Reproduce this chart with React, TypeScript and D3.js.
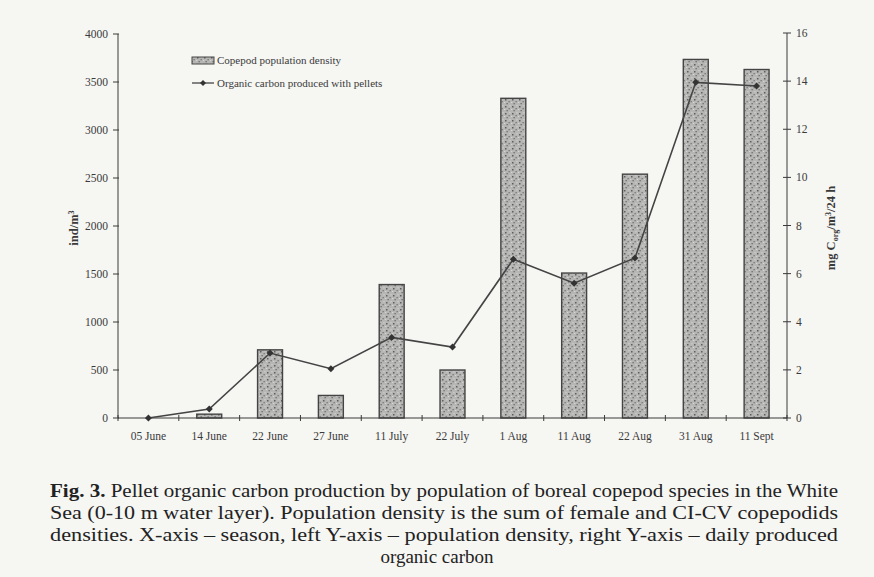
import React from "react";
import * as d3 from "d3";

const dates = ["05 June", "14 June", "22 June", "27 June", "11 July", "22 July", "1 Aug", "11 Aug", "22 Aug", "31 Aug", "11 Sept"];
const density = [0, 40, 710, 235, 1390, 500, 3330, 1510, 2540, 3735, 3630];
const carbon = [0, 0.37, 2.7, 2.05, 3.35, 2.95, 6.6, 5.6, 6.65, 13.95, 13.8];
const leftTicks = [0, 500, 1000, 1500, 2000, 2500, 3000, 3500, 4000];
const rightTicks = [0, 2, 4, 6, 8, 10, 12, 14, 16];
const captionLines = [
    "Pellet organic carbon production by population of boreal copepod species in the White",
    "Sea (0-10 m water layer). Population density is the sum of female and CI-CV copepodids",
    "densities. X-axis \u2013 season, left Y-axis \u2013 population density, right Y-axis \u2013 daily produced",
    "organic carbon",
];

const W = 874;
const H = 577;
const M = { left: 118, right: 787, top: 34, bottom: 418 };
const INK = "#3a3a3a";
const FONT = "'Liberation Serif', 'Times New Roman', serif";

export default function App() {
    const x = d3.scaleBand<string>().domain(dates).range([M.left, M.right]).paddingInner(0).paddingOuter(0);
    const yL = d3.scaleLinear().domain([0, 4000]).range([M.bottom, M.top]);
    const yR = d3.scaleLinear().domain([0, 16]).range([M.bottom, M.top - 1]);
    const barW = x.bandwidth() * 0.41;
    const cx = (d: string) => (x(d) ?? 0) + x.bandwidth() / 2;

    const line = d3.line<number>()
        .x((_, i) => cx(dates[i]))
        .y((d) => yR(d));

    const boundaries = dates.map((d) => x(d) ?? 0).concat([M.right]);

    return (
        <div style={{ position: "absolute", left: 0, top: 0 }}>
            <svg width={W} height={H} style={{ display: "block" }}>
                <defs>
                    <pattern id="stipple" width="7" height="7" patternUnits="userSpaceOnUse">
                        <rect width="7" height="7" fill="#b6b6b4" />
                        <rect x="1" y="1" width="1.5" height="1.5" fill="#5e5e5e" />
                        <rect x="4.5" y="3" width="1.3" height="1.3" fill="#777" />
                        <rect x="2.5" y="5" width="1.3" height="1.3" fill="#6a6a6a" />
                        <rect x="5.5" y="0.3" width="1" height="1" fill="#e2e2e2" />
                        <rect x="0.2" y="4" width="1" height="1" fill="#dedede" />
                    </pattern>
                </defs>
                <rect width={W} height={H} fill="#f6f6f3" />

                {/* bars */}
                <g>
                    {dates.map((d, i) => density[i] > 0 && (
                        <rect key={d} x={cx(d) - barW / 2} y={yL(density[i])} width={barW}
                              height={yL(0) - yL(density[i])} fill="url(#stipple)" stroke="#444" strokeWidth={1.4} />
                    ))}
                </g>

                {/* axes */}
                <g stroke={INK} strokeWidth={1} fill="none">
                    <line x1={M.left} x2={M.left} y1={M.top} y2={M.bottom} />
                    <line x1={M.right} x2={M.right} y1={M.top - 1} y2={M.bottom} />
                    <line x1={M.left} x2={M.right} y1={M.bottom} y2={M.bottom} />
                    {boundaries.map((b, i) => (
                        <line key={"xt" + i} x1={b} x2={b} y1={M.bottom - 3} y2={M.bottom + 3} />
                    ))}
                    {leftTicks.map((t) => (
                        <line key={"lt" + t} x1={M.left - 5} x2={M.left + 1} y1={yL(t)} y2={yL(t)} />
                    ))}
                    {rightTicks.map((t) => (
                        <line key={"rt" + t} x1={M.right - 4} x2={M.right + 4} y1={yR(t)} y2={yR(t)} />
                    ))}
                </g>

                <g fontFamily={FONT} fontSize={11.5} fill={INK}>
                    {leftTicks.map((t) => (
                        <text key={"ll" + t} x={M.left - 10} y={yL(t)} dy="0.35em" textAnchor="end">{t}</text>
                    ))}
                    {rightTicks.map((t) => (
                        <text key={"rl" + t} x={M.right + 9} y={yR(t)} dy="0.35em">{t}</text>
                    ))}
                    {dates.map((d) => (
                        <text key={"xl" + d} x={cx(d)} y={M.bottom + 22} textAnchor="middle">{d}</text>
                    ))}
                </g>

                {/* axis titles */}
                <text transform="translate(78,228) rotate(-90)" textAnchor="middle" fontFamily={FONT}
                      fontSize={12.5} fontWeight="bold" fill={INK}>
                    ind/m<tspan dy={-4} fontSize={8}>3</tspan>
                </text>
                <text transform="translate(835,228) rotate(-90)" textAnchor="middle" fontFamily={FONT}
                      fontSize={12.5} fontWeight="bold" fill={INK}>
                    mg C<tspan dy={3} fontSize={8}>org</tspan><tspan dy={-3}>/m</tspan>
                    <tspan dy={-4} fontSize={8}>3</tspan><tspan dy={4}>/24 h</tspan>
                </text>

                {/* line series */}
                <path d={line(carbon) ?? undefined} fill="none" stroke="#444" strokeWidth={1.6} />
                {carbon.map((v, i) => (
                    <path key={"m" + i} d="M0,-3.5L3.5,0L0,3.5L-3.5,0Z"
                          transform={`translate(${cx(dates[i])},${yR(v)})`} fill="#333" />
                ))}

                {/* legend */}
                <g fontFamily={FONT} fontSize={11} fill={INK}>
                    <rect x={192} y={57} width={22} height={7} fill="url(#stipple)" stroke="#444" strokeWidth={1} />
                    <text x={217} y={64}>Copepod population density</text>
                    <line x1={192} x2={214} y1={83} y2={83} stroke="#444" strokeWidth={1.3} />
                    <path d="M0,-3L3,0L0,3L-3,0Z" transform="translate(203,83)" fill="#333" />
                    <text x={217} y={87}>Organic carbon produced with pellets</text>
                </g>

                {/* caption */}
                <g fontFamily={FONT} fontSize={19} fill="#222">
                    <text x={50} y={497} textLength={788} lengthAdjust="spacingAndGlyphs">
                        <tspan fontWeight="bold">Fig. 3. </tspan>{captionLines[0]}
                    </text>
                    <text x={50} y={519} textLength={788} lengthAdjust="spacingAndGlyphs">{captionLines[1]}</text>
                    <text x={50} y={541} textLength={788} lengthAdjust="spacingAndGlyphs">{captionLines[2]}</text>
                    <text x={437} y={563} textAnchor="middle">{captionLines[3]}</text>
                </g>
            </svg>
        </div>
    );
}
